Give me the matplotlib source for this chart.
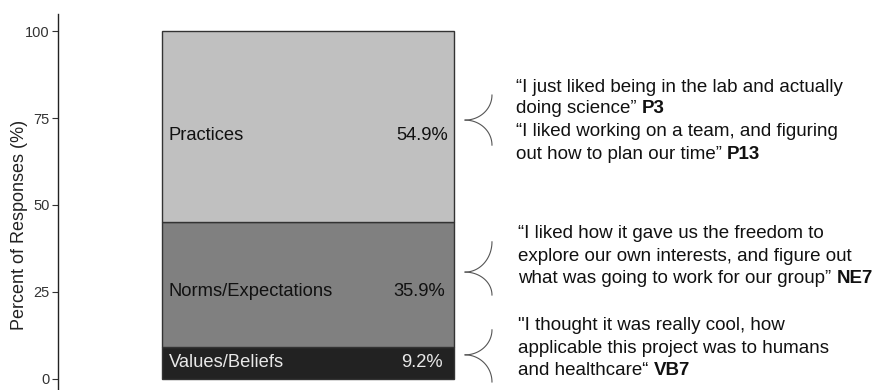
import matplotlib
matplotlib.use('Agg')
import matplotlib.pyplot as plt
import numpy as np

# data
categories = ['Values/Beliefs', 'Norms/Expectations', 'Practices']
values = [9.2, 35.9, 54.9]
colors = ['#222222', '#808080', '#c0c0c0']
text_colors = ['#e8e8e8', '#111111', '#111111']
label_y = [3.5, 23.9, 68.7]  # baseline of the labels inside the bar
pct_x = [0.462, 0.469, 0.479]
yticks = [0, 25, 50, 75, 100]

quotes = [
    [("\u201cI just liked being in the lab and actually", ""),
     ("doing science\u201d ", "P3"),
     ("\u201cI liked working on a team, and figuring", ""),
     ("out how to plan our time\u201d ", "P13")],
    [("\u201cI liked how it gave us the freedom to", ""),
     ("explore our own interests, and figure out", ""),
     ("what was going to work for our group\u201d ", "NE7")],
    [("\"I thought it was really cool, how", ""),
     ("applicable this project was to humans", ""),
     ("and healthcare\u201c ", "VB7")],
]
quote_x = [0.712, 0.719, 0.719]
quote_y = [[82.6, 76.4, 69.8, 63.2], [40.5, 33.9, 27.6], [14.1, 7.5, 1.1]]
# braces: (tip_x, end_x, top, tip, bottom)
braces = [(0.538, 0.630, 81.6, 74.4, 67.2),
          (0.538, 0.630, 39.4, 30.7, 24.1),
          (0.538, 0.630, 14.1, 6.9, -0.9)]

plt.rcParams['font.family'] = ['Liberation Sans', 'DejaVu Sans']

fig = plt.figure(figsize=(8.76, 3.9), dpi=100)
ax = fig.add_axes([58 / 876, 0, 1 - 58 / 876, 376 / 390])

bottom = 0
for i, (cat, v) in enumerate(zip(categories, values)):
    ax.bar(0, v, width=1.0, bottom=bottom, color=colors[i],
           edgecolor='#333333', linewidth=1.0)
    ax.text(-0.476, label_y[i], cat, ha='left', va='baseline',
            fontsize=13.2, color=text_colors[i])
    ax.text(pct_x[i], label_y[i], f'{v}%', ha='right', va='baseline',
            fontsize=13.2, color=text_colors[i])
    bottom += v

# quotes
for g, lines in enumerate(quotes):
    for j, (plain, bold) in enumerate(lines):
        t = ax.text(quote_x[g], quote_y[g][j], plain, ha='left', va='baseline',
                    fontsize=13.5, color='#111111')
        if bold:
            ax.annotate(bold, xy=(1, 0), xycoords=t, ha='left', va='bottom',
                        fontsize=13.5, fontweight='bold', color='#111111')

# curly brackets
t = np.linspace(0, np.pi / 2, 40)
for tip_x, end_x, top, tip, bot in braces:
    rx = end_x - tip_x
    ax.plot(tip_x + rx * np.cos(t), top - (top - tip) * np.sin(t),
            color='#555555', lw=0.8, clip_on=False)
    ax.plot(tip_x + rx * np.cos(t), bot + (tip - bot) * np.sin(t),
            color='#555555', lw=0.8, clip_on=False)

ax.set_xlim(-0.856, 1.945)
ax.set_ylim(-3.2, 104.9)
ax.set_yticks(yticks)
ax.set_yticklabels([str(v) for v in yticks], fontsize=10.5, color='#333333')
ax.tick_params(axis='y', length=4, width=0.8, color='#333333', pad=2)
ax.set_xticks([])
for s in ['top', 'right', 'bottom']:
    ax.spines[s].set_visible(False)
ax.spines['left'].set_color('#222222')
ax.spines['left'].set_linewidth(1.0)
ax.set_ylabel('Percent of Responses (%)', fontsize=13, color='#222222')
ax.yaxis.set_label_coords(-0.037, 0.439)
ax.patch.set_alpha(0)

fig.savefig('out.png', dpi=100)
